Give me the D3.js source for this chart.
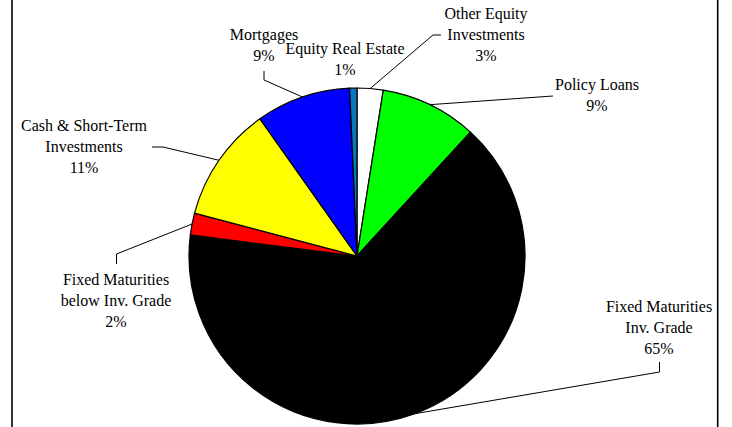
<!DOCTYPE html>
<html>
<head>
<meta charset="utf-8">
<script src="https://cdn.jsdelivr.net/npm/d3@7"></script>
<style>
  body { margin: 0; background: #fff; }
  svg { display: block; }
  .lbl { font-family: "Liberation Serif", "Times New Roman", serif; font-size: 16px; fill: #000; }
  .leader { fill: none; stroke: #000; stroke-width: 1; }
</style>
</head>
<body>
<svg width="732" height="427"></svg>
<script>
// slice order: clockwise from 12 o'clock
var categories = ["Other Equity Investments", "Policy Loans", "Fixed Maturities Inv. Grade",
    "Fixed Maturities below Inv. Grade", "Cash & Short-Term Investments", "Mortgages", "Equity Real Estate"];
var values = [2.5, 9.3, 65.2, 2.1, 11.1, 9.1, 0.7];
var labelLines = [
    ["Other Equity", "Investments"],
    ["Policy Loans"],
    ["Fixed Maturities", "Inv. Grade"],
    ["Fixed Maturities", "below Inv. Grade"],
    ["Cash & Short-Term", "Investments"],
    ["Mortgages"],
    ["Equity Real Estate"]
];
var colors = ["#ffffff", "#00ff00", "#000000", "#ff0000", "#ffff00", "#0000ff", "#0878be"];

// layout: label centre (first line) and leader bends, per slice
var labelPos = [[486, 14], [597, 85], [659, 307], [116, 280], [84, 126], [264, 35], [345, 49]];
var leaderBends = [
    [[433, 35], [441, 35]],
    [[553, 96]],
    [[659.5, 372], [659.5, 362]],
    [[116.5, 254], [116.5, 264]],
    [[163, 147], [152, 147]],
    [[264, 80], [264, 71]],
    null
];

var svg = d3.select("svg"),
    cx = 357, cy = 256, r = 168,
    lineH = 21;

// frame sides
svg.append("line").attr("x1", 12).attr("x2", 12).attr("y1", 0).attr("y2", 427)
    .attr("stroke", "#000").attr("stroke-width", 1.6);
svg.append("line").attr("x1", 717.7).attr("x2", 717.7).attr("y1", 0).attr("y2", 427)
    .attr("stroke", "#000").attr("stroke-width", 1.6);

var pie = d3.pie().sort(null).value(function (d) { return d; });
var arcs = pie(values);
var arc = d3.arc().innerRadius(0).outerRadius(r);

var g = svg.append("g").attr("transform", "translate(" + cx + "," + cy + ")");

g.selectAll("path.slice")
    .data(arcs)
    .enter().append("path")
    .attr("class", "slice")
    .attr("d", arc)
    .attr("fill", function (d, i) { return colors[i]; })
    .attr("stroke", "#000")
    .attr("stroke-width", 1.2)
    .attr("stroke-linejoin", "round");

// leader lines from slice edge midpoint
arcs.forEach(function (d, i) {
    var bends = leaderBends[i];
    if (!bends) return;
    var mid = (d.startAngle + d.endAngle) / 2;
    var p0 = [cx + r * Math.sin(mid), cy - r * Math.cos(mid)];
    svg.append("path")
        .attr("class", "leader")
        .attr("d", d3.line()([p0].concat(bends)));
});

// labels
arcs.forEach(function (d, i) {
    var lines = labelLines[i].concat([Math.round(values[i]) + "%"]);
    var t = svg.append("text")
        .attr("class", "lbl")
        .attr("text-anchor", "middle");
    lines.forEach(function (s, k) {
        t.append("tspan")
            .attr("x", labelPos[i][0])
            .attr("y", labelPos[i][1] + 5 + k * lineH)
            .text(s);
    });
});
</script>
</body>
</html>
